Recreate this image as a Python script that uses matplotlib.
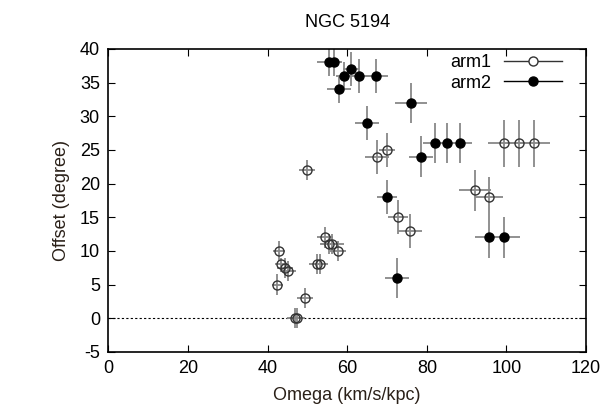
import matplotlib.pyplot as plt
from matplotlib.lines import Line2D

plt.rcParams['font.family'] = ['Liberation Sans', 'DejaVu Sans']
plt.rcParams['axes.unicode_minus'] = False

# arm1 (open circles)
arm1_x = [99.4, 103.1, 106.9, 67.5, 70.0, 92.1, 95.7, 72.7, 75.8, 50.0,
          54.5, 55.5, 56.3, 57.8, 52.5, 53.3, 43.0, 43.5, 44.5, 45.2,
          42.5, 49.5, 46.8, 47.5]
arm1_y = [26, 26, 26, 24, 25, 19, 18, 15, 13, 22,
          12, 11, 11, 10, 8, 8, 10, 8, 7.5, 7,
          5, 3, 0, 0]
arm1_xerr = [4, 3, 4, 3, 2, 4, 3.5, 2.5, 3, 2,
             2, 2, 3, 2, 2, 2, 1.5, 1.5, 2, 2,
             1.5, 2, 2, 2]
arm1_yerr = [3.5, 3.5, 3.5, 2.5, 2.5, 3, 3, 2.5, 2.5, 1.5,
             1.5, 1.5, 1.5, 1.5, 1.5, 1.5, 1.5, 1, 1.5, 1.5,
             1.5, 1.5, 1.5, 1.5]

# arm2 (filled circles)
arm2_x = [55.5, 56.7, 61.0, 59.3, 63.0, 67.3, 58.0, 76.0, 65.0, 82.0,
          85.0, 88.3, 78.6, 70.0, 95.7, 99.3, 72.6]
arm2_y = [38, 38, 37, 36, 36, 36, 34, 32, 29, 26,
          26, 26, 24, 18, 12, 12, 6]
arm2_xerr = [3, 2, 2, 2, 3, 3, 3, 4, 3, 3,
             2, 3, 3, 2.5, 3.5, 4, 3]
arm2_yerr = [2, 2, 2.5, 2, 2.5, 2.5, 2, 3, 2.5, 3,
             3, 3, 3, 2.5, 3, 3, 3]

fig = plt.figure(figsize=(6.08, 4.15), dpi=100)
ax = fig.add_axes([0.178, 0.152, 0.786, 0.730])

ax.axhline(0, color='black', linestyle=(0, (2, 2)), linewidth=0.8)

ax.errorbar(arm1_x, arm1_y, xerr=arm1_xerr, yerr=arm1_yerr, fmt='o',
            mfc='none', mec='#333333', ms=6.5, mew=1.0,
            ecolor='#888888', elinewidth=1.3, capsize=0)
ax.errorbar(arm2_x, arm2_y, xerr=arm2_xerr, yerr=arm2_yerr, fmt='o',
            mfc='black', mec='black', ms=6.5,
            ecolor='#888888', elinewidth=1.3, capsize=0)

ax.set_xlim(0, 120)
ax.set_ylim(-5, 40)
ax.set_xticks(range(0, 121, 20))
ax.set_yticks(range(-5, 41, 5))
ax.tick_params(direction='in', top=True, right=True, length=5,
               labelsize=13, pad=6)
for s in ax.spines.values():
    s.set_linewidth(1.2)

ax.set_title('NGC 5194', fontsize=13, pad=16)
ax.set_xlabel('Omega (km/s/kpc)', fontsize=13, color='#2a2018', labelpad=7)
ax.set_ylabel('Offset (degree)', fontsize=13, color='#2a2018', labelpad=7)

handles = [
    Line2D([], [], color='#333333', lw=1.0, marker='o', mfc='white',
           mec='#333333', ms=6.5),
    Line2D([], [], color='black', lw=1.0, marker='o', mfc='black',
           mec='black', ms=6.5),
]
ax.legend(handles, ['arm1', 'arm2'], loc='upper right',
          bbox_to_anchor=(0.949, 0.983), frameon=False, markerfirst=False,
          handlelength=3.2, handletextpad=0.7, borderpad=0,
          borderaxespad=0, labelspacing=0.2, fontsize=13)

fig.savefig('out.png', dpi=100)
